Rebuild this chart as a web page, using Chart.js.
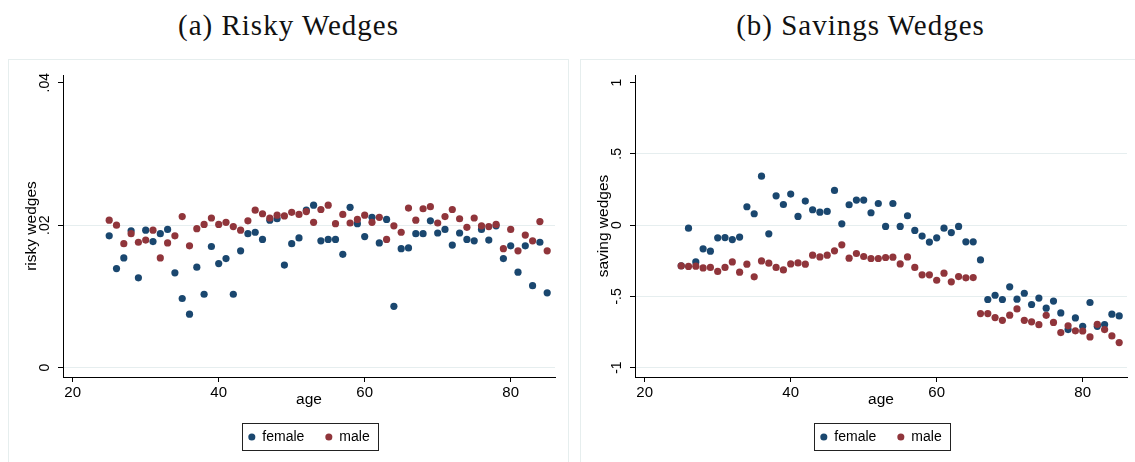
<!DOCTYPE html>
<html>
<head>
<meta charset="utf-8">
<script src="https://cdn.jsdelivr.net/npm/chart.js@4/dist/chart.umd.min.js"></script>
<style>
    body { margin: 0; width: 1135px; height: 462px; overflow: hidden; background: #fff; position: relative; }
    .panel { position: absolute; top: 0; width: 561px; height: 470px; }
    .title { position: absolute; left: 0; top: 0; width: 561px; height: 50px; line-height: 50px; text-align: center;
             font-family: "Liberation Serif", serif; font-size: 29px; letter-spacing: 1px; color: #111; }
    .box { position: absolute; left: 0; top: 59px; width: 559px; height: 410px; border: 1px solid #e6eeee; }
    canvas { position: absolute; left: 0; top: 0; }
</style>
</head>
<body>
<div class="panel" style="left: 8px;">
    <div class="title">(a) Risky Wedges</div>
    <div class="box"><canvas id="riskyCanvas" width="559" height="402"></canvas></div>
</div>
<div class="panel" style="left: 580px;">
    <div class="title">(b) Savings Wedges</div>
    <div class="box"><canvas id="savingCanvas" width="559" height="402"></canvas></div>
</div>
<script>
const ages = [25, 26, 27, 28, 29, 30, 31, 32, 33, 34, 35, 36, 37, 38, 39, 40, 41, 42, 43, 44, 45,
    46, 47, 48, 49, 50, 51, 52, 53, 54, 55, 56, 57, 58, 59, 60, 61, 62, 63, 64, 65,
    66, 67, 68, 69, 70, 71, 72, 73, 74, 75, 76, 77, 78, 79, 80, 81, 82, 83, 84, 85];

const riskyFemale = [0.0185, 0.0139, 0.0154, 0.0192, 0.0126, 0.0193, 0.0177, 0.0188, 0.0194, 0.0133, 0.0097,
    0.0075, 0.0141, 0.0103, 0.0170, 0.0146, 0.0153, 0.0103, 0.0164, 0.0188, 0.0190,
    0.0180, 0.0207, 0.0209, 0.0144, 0.0174, 0.0182, 0.0221, 0.0228, 0.0178, 0.0180,
    0.0180, 0.0159, 0.0225, 0.0202, 0.0184, 0.0211, 0.0175, 0.0208, 0.0086, 0.0167,
    0.0168, 0.0188, 0.0188, 0.0206, 0.0189, 0.0194, 0.0172, 0.0189, 0.0180, 0.0178,
    0.0194, 0.0179, 0.0199, 0.0153, 0.0171, 0.0134, 0.0171, 0.0115, 0.0176, 0.0105];

const riskyMale = [0.0207, 0.0200, 0.0174, 0.0188, 0.0176, 0.0179, 0.0193, 0.0154, 0.0175, 0.0185, 0.0212,
    0.0171, 0.0195, 0.0201, 0.0210, 0.0201, 0.0204, 0.0198, 0.0193, 0.0206, 0.0221,
    0.0216, 0.0210, 0.0214, 0.0213, 0.0218, 0.0215, 0.0219, 0.0204, 0.0222, 0.0228,
    0.0202, 0.0215, 0.0203, 0.0208, 0.0214, 0.0204, 0.0211, 0.0180, 0.0199, 0.0190,
    0.0224, 0.0207, 0.0223, 0.0226, 0.0203, 0.0212, 0.0222, 0.0209, 0.0197, 0.0210,
    0.0199, 0.0198, 0.0201, 0.0167, 0.0194, 0.0164, 0.0186, 0.0178, 0.0205, 0.0164];

const savingFemale = [-0.285, -0.021, -0.258, -0.166, -0.183, -0.089, -0.087, -0.101, -0.084, 0.129, 0.080,
    0.344, -0.061, 0.206, 0.145, 0.218, 0.061, 0.169, 0.108, 0.091, 0.096,
    0.244, 0.009, 0.143, 0.176, 0.176, 0.087, 0.152, -0.009, 0.152, -0.009,
    0.066, -0.037, -0.077, -0.119, -0.089, -0.021, -0.052, -0.009, -0.117, -0.117,
    -0.244, -0.522, -0.492, -0.522, -0.433, -0.520, -0.478, -0.557, -0.512, -0.583,
    -0.533, -0.616, -0.733, -0.651, -0.710, -0.543, -0.710, -0.698, -0.625, -0.637];

const savingMale = [-0.286, -0.290, -0.288, -0.300, -0.297, -0.325, -0.297, -0.258, -0.330, -0.274, -0.363,
    -0.251, -0.267, -0.297, -0.314, -0.272, -0.265, -0.274, -0.211, -0.223, -0.211,
    -0.180, -0.138, -0.232, -0.199, -0.220, -0.234, -0.234, -0.227, -0.225, -0.272,
    -0.223, -0.297, -0.349, -0.349, -0.387, -0.337, -0.398, -0.361, -0.370, -0.368,
    -0.621, -0.621, -0.649, -0.668, -0.632, -0.588, -0.668, -0.679, -0.699, -0.633,
    -0.683, -0.754, -0.707, -0.742, -0.743, -0.785, -0.696, -0.733, -0.778, -0.824];

const ageTicks = [20, 40, 60, 80];
const riskyTicks = [0, 0.02, 0.04];
const riskyTickLabels = ['0', '.02', '.04'];
const savingTicks = [-1, -0.5, 0, 0.5, 1];
const savingTickLabels = ['-1', '-.5', '0', '.5', '1'];

const NAVY = '#1a476f';
const MAROON = '#90353b';
const SANS = '"Liberation Sans", Arial, sans-serif';

// Stata draws the y tick labels turned on their side and frames the legend
const stataTouches = {
    id: 'stataTouches',
    afterDraw: (chart, args, opts) => {
        const ctx = chart.ctx;
        const yScale = chart.scales.y;

        ctx.save();
        ctx.font = `14px ${SANS}`;
        ctx.fillStyle = '#000';
        ctx.textAlign = 'center';
        ctx.textBaseline = 'middle';
        yScale.ticks.forEach((tick, i) => {
            ctx.save();
            ctx.translate(chart.chartArea.left - 17.5, yScale.getPixelForValue(tick.value));
            ctx.rotate(-Math.PI / 2);
            ctx.fillText(opts.labels[i], 0, 0);
            ctx.restore();
        });

        const boxes = chart.legend.legendHitBoxes;
        if (boxes && boxes.length) {
            const first = boxes[0];
            const last = boxes[boxes.length - 1];
            const mid = first.top + first.height / 2;
            const left = Math.round(first.left - 6) + 0.5;
            const right = Math.round(last.left + last.width + 8) + 0.5;
            ctx.strokeStyle = '#222';
            ctx.lineWidth = 1;
            ctx.strokeRect(left, Math.round(mid - 14) + 0.5, right - left, 27);
        }
        ctx.restore();
    },
};

const toPoints = (values) => values.map((v, i) => ({ x: ages[i], y: v }));

const makePanel = (canvasId, female, male, yTicks, yLabels, yMin, yMax, yTitle) => {
    const ctx = document.getElementById(canvasId).getContext('2d');
    const topTick = yTicks[yTicks.length - 1];

    new Chart(ctx, {
        type: 'scatter',
        data: {
            datasets: [
                { label: 'female', data: toPoints(female), backgroundColor: NAVY, borderWidth: 0,
                  pointRadius: 3.6, pointStyle: 'circle', order: 2 },
                { label: 'male', data: toPoints(male), backgroundColor: MAROON, borderWidth: 0,
                  pointRadius: 3.6, pointStyle: 'circle', order: 1 },
            ],
        },
        options: {
            responsive: false,
            animation: false,
            layout: { padding: { top: 15, left: 10, right: 13, bottom: 8 } },
            scales: {
                x: {
                    type: 'linear',
                    min: 18.67,
                    max: 86.07,
                    afterBuildTicks: (scale) => { scale.ticks = ageTicks.map((v) => ({ value: v })); },
                    afterFit: (scale) => { scale.height = 32; },
                    grid: { drawOnChartArea: false, tickLength: 5, tickColor: '#000' },
                    border: { color: '#000', width: 1 },
                    ticks: { color: '#000', font: { family: SANS, size: 15 }, padding: 2, maxRotation: 0, autoSkip: false },
                    title: { display: true, text: 'age', color: '#000', font: { family: SANS, size: 15.5 },
                             padding: { top: 0, bottom: 0 } },
                },
                y: {
                    type: 'linear',
                    min: yMin,
                    max: yMax,
                    afterBuildTicks: (scale) => { scale.ticks = yTicks.map((v) => ({ value: v })); },
                    afterFit: (scale) => { scale.width = 44; },
                    grid: {
                        color: (c) => (c.tick && c.tick.value === topTick ? 'rgba(0,0,0,0)' : '#e6eeef'),
                        tickLength: 5,
                        tickColor: '#000',
                    },
                    border: { color: '#000', width: 1 },
                    ticks: { display: false },
                    title: { display: true, text: yTitle, color: '#000', font: { family: SANS, size: 15.5 },
                             padding: { top: 3, bottom: 0 } },
                },
            },
            plugins: {
                tooltip: { enabled: false },
                legend: {
                    position: 'bottom',
                    fullSize: false,
                    labels: {
                        usePointStyle: true,
                        boxWidth: 7,
                        boxHeight: 5,
                        padding: 21,
                        color: '#000',
                        font: { family: SANS, size: 14 },
                        sort: (a, b) => a.datasetIndex - b.datasetIndex,
                    },
                },
                stataTouches: { labels: yLabels },
            },
        },
        plugins: [stataTouches],
    });
};

makePanel('riskyCanvas', riskyFemale, riskyMale, riskyTicks, riskyTickLabels, -0.00132, 0.04108, 'risky wedges');
makePanel('savingCanvas', savingFemale, savingMale, savingTicks, savingTickLabels, -1.066, 1.054, 'saving wedges');
</script>
</body>
</html>
